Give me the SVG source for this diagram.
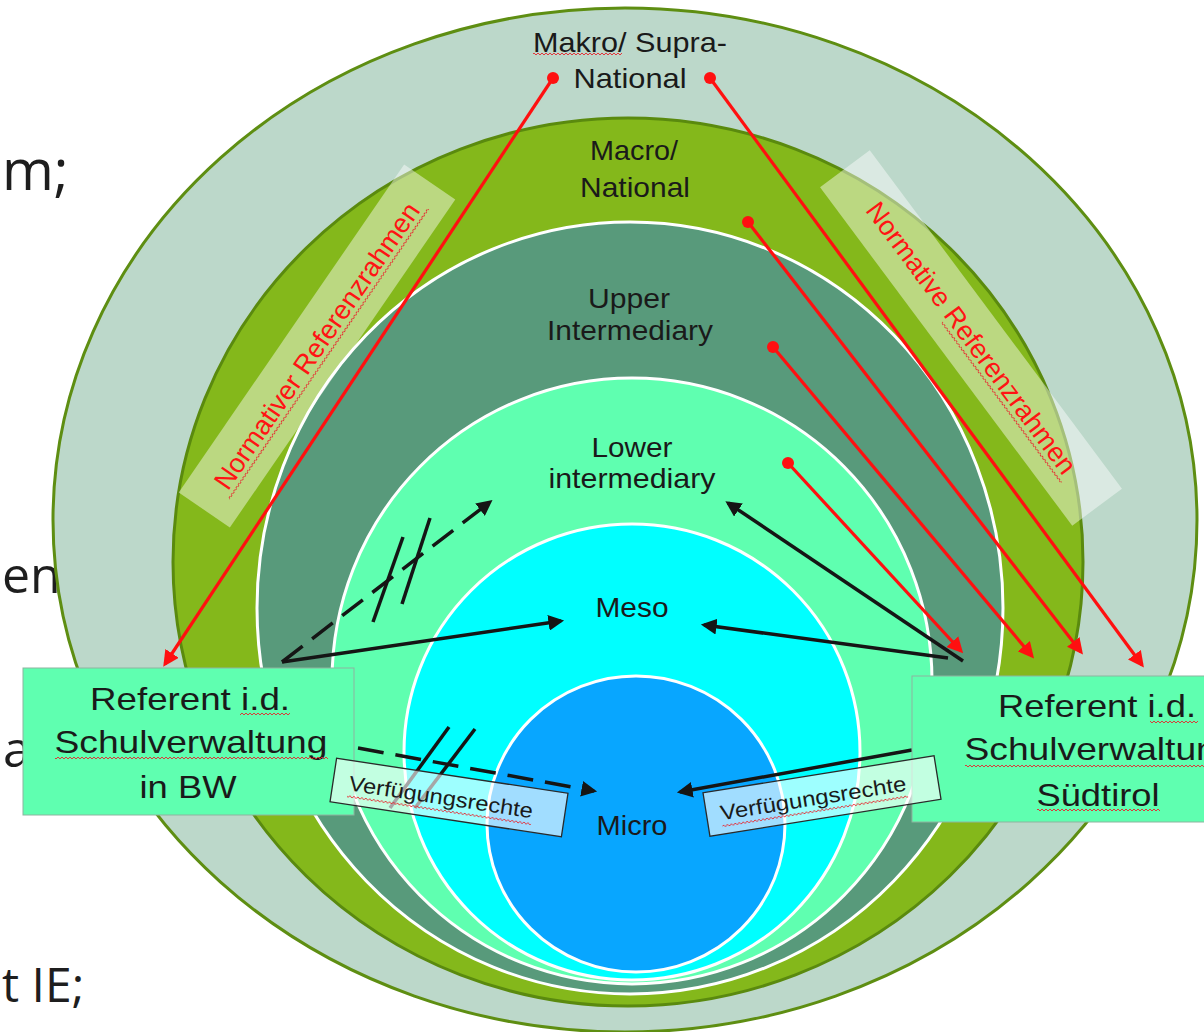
<svg xmlns="http://www.w3.org/2000/svg" width="1204" height="1032" viewBox="0 0 1204 1032">
<defs>
<style>
.lbl{font-family:"Liberation Sans",Arial,sans-serif;fill:#1a1a1a;text-anchor:middle;font-size:28px}
.bx{font-size:32px}
.vf{font-size:21px}
.red{font-family:"Liberation Sans",Arial,sans-serif;fill:#ff1414;font-size:27px;text-anchor:middle}
.bg{font-family:"Open Sans",sans-serif;fill:#1e1e1e;text-anchor:start}
.ring{stroke:#ffffff;stroke-width:3}
.rl{stroke:#ff1010;stroke-width:3.2;fill:none;marker-end:url(#ar)}
.bl{stroke:#151515;stroke-width:3.5;fill:none;marker-end:url(#ab)}
.dash{stroke-dasharray:26 12}
.sl{stroke:#151515;stroke-width:3.5}
.dot{fill:#ff1010}
.wv{fill:url(#wave)}
.nbox{fill:#ffffff;fill-opacity:0.45}
.vbox{fill:#ffffff;fill-opacity:0.62;stroke:#2a2a2a;stroke-width:1.3}
.rbox{fill:#5fffb0;stroke:#8db49f;stroke-width:1}
</style>
<pattern id="wave" width="4" height="4" patternUnits="userSpaceOnUse">
<path d="M0 3 L2 1 L4 3" fill="none" stroke="#e8242c" stroke-width="0.9"/>
</pattern>
<marker id="ar" viewBox="0 0 10 10" refX="8" refY="5" markerWidth="5" markerHeight="5" orient="auto" markerUnits="strokeWidth">
<path d="M0 0 L10 5 L0 10 z" fill="#ff1010"/>
</marker>
<marker id="ab" viewBox="0 0 10 10" refX="8" refY="5" markerWidth="4.5" markerHeight="4.5" orient="auto" markerUnits="strokeWidth">
<path d="M0 0 L10 5 L0 10 z" fill="#151515"/>
</marker>
</defs>

<g id="background-text">
<text class="bg" x="2" y="190" font-size="56">m;</text>
<text class="bg" x="2" y="593" font-size="50">en</text>
<text class="bg" x="3" y="767" font-size="50">a</text>
<text class="bg" x="2" y="1002" font-size="48">t IE;</text>
</g>

<g id="rings">
<ellipse id="ring-supra" cx="625" cy="520" rx="572" ry="512" fill="#bcd8ca" stroke="#5e8e12" stroke-width="3"/>
<ellipse id="ring-macro" cx="628" cy="562" rx="455" ry="444" fill="#84b81b" stroke="#5a8a0e" stroke-width="3"/>
<ellipse id="ring-upper" class="ring" cx="630" cy="608" rx="373" ry="386" fill="#589a7b"/>
<ellipse id="ring-lower" class="ring" cx="632" cy="681" rx="300" ry="303" fill="#5fffb0"/>
<ellipse id="ring-meso" class="ring" cx="632" cy="752" rx="228" ry="228" fill="#00ffff"/>
<ellipse id="ring-micro" class="ring" cx="636" cy="824" rx="149" ry="148" fill="#08a6ff"/>
</g>

<g id="level-labels">
<text class="lbl" x="630" y="52" textLength="194" lengthAdjust="spacingAndGlyphs">Makro/ Supra-</text>
<rect class="wv" x="533" y="52" width="89" height="4"/>
<text class="lbl" x="630" y="88" textLength="113" lengthAdjust="spacingAndGlyphs">National</text>
<text class="lbl" x="634" y="160" textLength="88" lengthAdjust="spacingAndGlyphs">Macro/</text>
<text class="lbl" x="635" y="197" textLength="110" lengthAdjust="spacingAndGlyphs">National</text>
<text class="lbl" x="629" y="308" textLength="82" lengthAdjust="spacingAndGlyphs">Upper</text>
<text class="lbl" x="630" y="340" textLength="166" lengthAdjust="spacingAndGlyphs">Intermediary</text>
<text class="lbl" x="632" y="457" textLength="81" lengthAdjust="spacingAndGlyphs">Lower</text>
<text class="lbl" x="632" y="488" textLength="167" lengthAdjust="spacingAndGlyphs">intermediary</text>
<text class="lbl" x="632" y="617" textLength="73" lengthAdjust="spacingAndGlyphs">Meso</text>
<text class="lbl" x="632" y="835" textLength="71" lengthAdjust="spacingAndGlyphs">Micro</text>
</g>

<g id="frame-left" transform="translate(317,346) rotate(-55.5)">
<rect class="nbox" x="-199" y="-31" width="398" height="62"/>
<text class="red" x="0" y="9">Normativer Referenzrahmen</text>
<rect class="wv" x="-176" y="12" width="352" height="4"/>
</g>
<g id="frame-right" transform="translate(971,338) rotate(53.3)">
<rect class="nbox" x="-211" y="-31" width="422" height="62"/>
<text class="red" x="0" y="9">Normative Referenzrahmen</text>
<rect class="wv" x="-30" y="12" width="200" height="4"/>
</g>

<g id="connectors">
<line class="rl" x1="553" y1="78" x2="165" y2="664"/>
<circle class="dot" cx="553" cy="78" r="6"/>
<line class="rl" x1="710" y1="78" x2="1142" y2="665"/>
<circle class="dot" cx="710" cy="78" r="6"/>
<line class="rl" x1="748" y1="222" x2="1081" y2="652"/>
<circle class="dot" cx="748" cy="222" r="6"/>
<line class="rl" x1="773" y1="347" x2="1032" y2="656"/>
<circle class="dot" cx="773" cy="347" r="6"/>
<line class="rl" x1="788" y1="463" x2="961" y2="651"/>
<circle class="dot" cx="788" cy="463" r="6"/>

<line class="bl" x1="282" y1="662" x2="561" y2="621"/>
<line class="bl dash" x1="282" y1="662" x2="490" y2="502"/>
<line class="sl" x1="373" y1="622" x2="403" y2="537"/>
<line class="sl" x1="402" y1="604" x2="430" y2="518"/>
<line class="bl" x1="963" y1="661" x2="728" y2="503"/>
<line class="bl" x1="948" y1="658" x2="704" y2="625"/>
<line class="bl" x1="912" y1="750" x2="680" y2="792"/>
<line class="bl dash" x1="358" y1="748" x2="594" y2="791"/>
<line class="sl" x1="449" y1="727" x2="390" y2="808"/>
<line class="sl" x1="475" y1="729" x2="415" y2="808"/>
</g>

<g id="node-bw">
<rect class="rbox" x="23" y="668" width="331" height="147"/>
<text class="lbl bx" x="190" y="710" textLength="200" lengthAdjust="spacingAndGlyphs">Referent i.d.</text>
<rect class="wv" x="240" y="712" width="50" height="4"/>
<text class="lbl bx" x="191" y="753" textLength="273" lengthAdjust="spacingAndGlyphs">Schulverwaltung</text>
<rect class="wv" x="55" y="756" width="273" height="4"/>
<text class="lbl bx" x="188" y="798" textLength="97" lengthAdjust="spacingAndGlyphs">in BW</text>
</g>

<g id="node-suedtirol">
<rect class="rbox" x="912" y="676" width="380" height="146"/>
<text class="lbl bx" x="1097" y="717" textLength="198" lengthAdjust="spacingAndGlyphs">Referent i.d.</text>
<rect class="wv" x="1150" y="720" width="48" height="4"/>
<text class="lbl bx" x="1101" y="760" textLength="273" lengthAdjust="spacingAndGlyphs">Schulverwaltung</text>
<rect class="wv" x="965" y="764" width="239" height="4"/>
<text class="lbl bx" x="1098" y="806" textLength="123" lengthAdjust="spacingAndGlyphs">Südtirol</text>
<rect class="wv" x="1037" y="808" width="123" height="4"/>
</g>

<g id="label-rights-left" transform="translate(449,797.5) rotate(8.6)">
<rect class="vbox" x="-117" y="-22" width="234" height="44"/>
<text class="lbl vf" x="-8" y="8" textLength="186" lengthAdjust="spacingAndGlyphs">Verfügungsrechte</text>
<rect class="wv" x="-101" y="12" width="186" height="4"/>
</g>
<g id="label-rights-right" transform="translate(822,796) rotate(-9.1)">
<rect class="vbox" x="-117" y="-22" width="234" height="44"/>
<text class="lbl vf" x="-9" y="8" textLength="188" lengthAdjust="spacingAndGlyphs">Verfügungsrechte</text>
<rect class="wv" x="-103" y="12" width="188" height="4"/>
</g>
</svg>
